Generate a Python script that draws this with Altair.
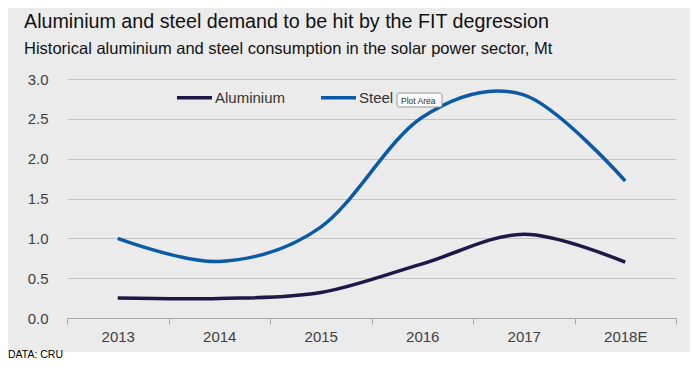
import altair as alt
import pandas as pd

years = ["2013", "2014", "2015", "2016", "2017", "2018E"]
aluminium = [0.25, 0.245, 0.32, 0.68, 1.05, 0.70]
steel = [1.0, 0.71, 1.14, 2.52, 2.80, 1.72]
series_names = ["Aluminium", "Steel"]
series_colors = ["#1d1846", "#0b5aa6"]
y_ticks = [0.0, 0.5, 1.0, 1.5, 2.0, 2.5, 3.0]

title_text = "Aluminium and steel demand to be hit by the FIT degression"
subtitle_text = "Historical aluminium and steel consumption in the solar power sector, Mt"
source_text = "DATA: CRU"
tooltip_text = "Plot Area"

FONT = "Liberation Sans, Arial, sans-serif"
BG = "#ebebeb"

rows = []
for name, vals in zip(series_names, [aluminium, steel]):
    for y, v in zip(years, vals):
        rows.append({"year": y, "value": v, "series": name})
df = pd.DataFrame(rows)

W, H = 609, 239

lines = alt.Chart(df).mark_line(interpolate="cardinal", strokeWidth=3.5).encode(
    x=alt.X("year:N", sort=years, bandPosition=0.5,
            scale=alt.Scale(type="band", paddingInner=0, paddingOuter=0),
            axis=alt.Axis(title=None, labelAngle=0, grid=False, tickBand="extent",
                          domainColor="#a6a6a6", tickColor="#a6a6a6", tickSize=6,
                          labelFont=FONT, labelFontSize=15, labelColor="#404040",
                          labelPadding=5)),
    y=alt.Y("value:Q", scale=alt.Scale(domain=[0, 3], nice=False),
            axis=alt.Axis(title=None, values=y_ticks, format=".1f", grid=True,
                          gridColor="#c4c4c4", domain=False, ticks=False,
                          labelFont=FONT, labelFontSize=15, labelColor="#404040",
                          labelPadding=19)),
    color=alt.Color("series:N",
                    scale=alt.Scale(domain=series_names, range=series_colors),
                    legend=alt.Legend(title=None, orient="none", legendX=108, legendY=-1,
                                      direction="horizontal", symbolType="stroke",
                                      symbolSize=1225, symbolStrokeWidth=3.5,
                                      labelFont=FONT, labelFontSize=15, labelColor="#333333",
                                      labelOffset=1, columnPadding=28, padding=0)),
)

title = alt.Chart(pd.DataFrame({"t": [title_text]})).mark_text(
    align="left", baseline="alphabetic", font=FONT, fontSize=19.7, color="#111111"
).encode(text="t:N", x=alt.value(-43), y=alt.value(-51))

subtitle = alt.Chart(pd.DataFrame({"t": [subtitle_text]})).mark_text(
    align="left", baseline="alphabetic", font=FONT, fontSize=16.5, color="#111111"
).encode(text="t:N", x=alt.value(-43), y=alt.value(-25))

white_band = alt.Chart(pd.DataFrame({"t": [0]})).mark_rect(color="white").encode(
    x=alt.value(-59), x2=alt.value(W + 14), y=alt.value(273), y2=alt.value(300))

source = alt.Chart(pd.DataFrame({"t": [source_text]})).mark_text(
    align="left", baseline="alphabetic", font=FONT, fontSize=10.5, color="#000000"
).encode(text="t:N", x=alt.value(-59), y=alt.value(279))

tip_box = alt.Chart(pd.DataFrame({"t": [0]})).mark_rect(
    fill="#f8f8f8", stroke="#9a9a9a", strokeWidth=1, cornerRadius=2
).encode(x=alt.value(330), x2=alt.value(375), y=alt.value(14), y2=alt.value(28))

tip_text = alt.Chart(pd.DataFrame({"t": [tooltip_text]})).mark_text(
    align="left", baseline="alphabetic", font=FONT, fontSize=8.5, color="#333333"
).encode(text="t:N", x=alt.value(334), y=alt.value(24.5))

chart = alt.layer(lines, tip_box, tip_text, title, subtitle, white_band, source).properties(
    width=W, height=H,
    padding={"left": 59, "top": 71, "right": 14, "bottom": 43},
    autosize=alt.AutoSizeParams(type="none"),
    background=BG,
).configure_view(stroke=None)

chart.save("out.html", embed_options={"renderer": "svg", "actions": False})
